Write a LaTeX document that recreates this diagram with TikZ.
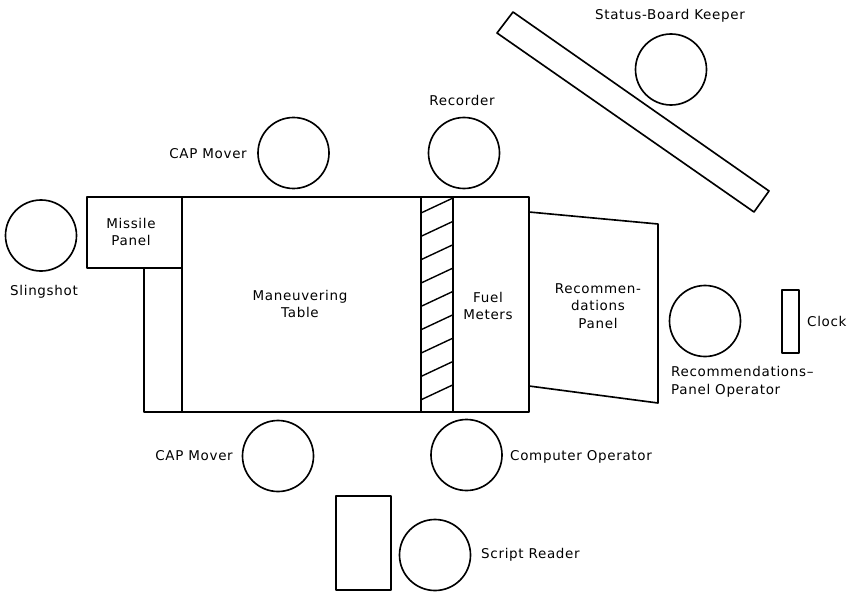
\documentclass[tikz,border=0pt]{standalone}
\usepackage{fontspec}
\setmainfont{DejaVu Sans}[LetterSpace=5]
\usetikzlibrary{positioning}

\tikzset{
  person/.style={circle, draw, line width=1.4pt, minimum size=2.13cm, inner sep=0pt},
  lbl/.style={font=\fontsize{11.5}{15}\selectfont, align=center, inner sep=0pt},
  furniture/.style={draw, line width=1.4pt, line join=round}
}

\begin{document}
\begin{tikzpicture}[x=0.03cm, y=-0.03cm]
    \useasboundingbox (0,0) rectangle (852,591);

    % table block
    \draw[furniture] (182,197) rectangle (529,412);
    \draw[furniture] (87,197) rectangle (182,268);
    \draw[furniture] (144,268) -- (144,412) -- (182,412);
    \draw[furniture] (421,197) -- (421,412); \draw[furniture] (453,197) -- (453,412);

    % hatching
    \foreach \k in {0,...,8}
      \draw[line width=1.2pt] (421,213+23.35*\k) -- (453,198+23.35*\k);

    % recommendations panel
    \draw[furniture] (529,212) -- (658,224) -- (658,403) -- (529,386);

    % status board
    \draw[furniture] (513,12) -- (769,191) -- (754,212) -- (497,33) -- cycle;

    % clock and script stand
    \draw[furniture] (782,290) rectangle (799,353);
    \draw[furniture] (336,496) rectangle (391,590);

    % people
    \node[person] (slingshot) at (41,235.5) {};
    \node[person] (captop) at (293.5,153) {};
    \node[person] (recorder) at (464,153) {};
    \node[person] (keeper) at (671,69.5) {};
    \node[person] (rpoperator) at (705,321) {};
    \node[person] (capbottom) at (278,456) {};
    \node[person] (computer) at (466.5,455) {};
    \node[person] (reader) at (435,555) {};

    % labels
    \node[lbl] (keeperlbl) at (670,16) {Status-Board Keeper};
    \node[lbl] (recorderlbl) at (462,100) {Recorder};
    \node[lbl, anchor=east] (captoplbl) at (247,154) {CAP Mover};
    \node[lbl] (slingshotlbl) at (44,292) {Slingshot};
    \node[lbl] (missilelbl) at (131,232) {Missile\\Panel};
    \node[lbl] (tablelbl) at (300,304) {Maneuvering\\Table};
    \node[lbl] (fuellbl) at (488,306) {Fuel\\Meters};
    \node[lbl] (panellbl) at (598,306) {Recommen-\\dations\\Panel};
    \node[lbl, anchor=west, align=left] (rpoperatorlbl) at (671,381.5) {Recommendations--\\Panel Operator};
    \node[lbl, anchor=west] (clocklbl) at (807,321) {Clock};
    \node[lbl, anchor=east] (capbottomlbl) at (233,456) {CAP Mover};
    \node[lbl, anchor=west] (computerlbl) at (510,457) {Computer Operator};
    \node[lbl, anchor=west] (readerlbl) at (481,555) {Script Reader};
\end{tikzpicture}
\end{document}
